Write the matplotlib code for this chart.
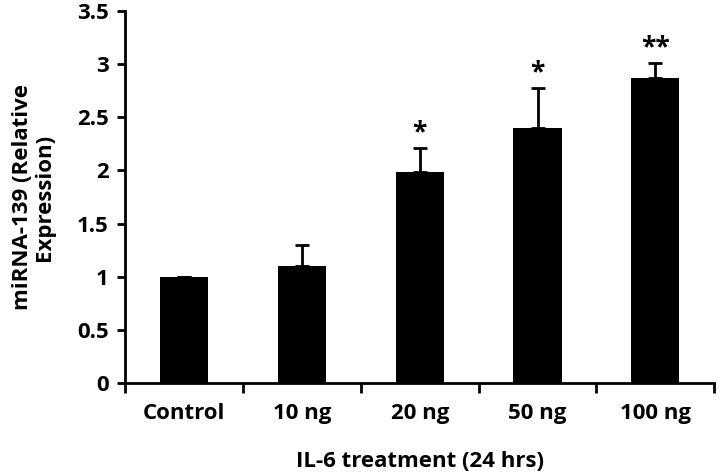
import numpy as np
import matplotlib.pyplot as plt
from matplotlib.ticker import FixedLocator

plt.rcParams['font.family'] = ['Open Sans', 'DejaVu Sans']
plt.rcParams['font.weight'] = 'bold'

groups = ['Control', '10 ng', '20 ng', '50 ng', '100 ng']
expr = [1.0, 1.1, 1.99, 2.40, 2.87]
err = [0.0, 0.2, 0.22, 0.38, 0.14]
stars = ['', '', '*', '*', '**']

fig = plt.figure(figsize=(7.2, 4.76), dpi=100)
ax = fig.add_axes([0.174, 0.195, 0.818, 0.782])

x = np.arange(len(groups))
ax.bar(x, expr, width=0.41, color='black', zorder=2)
ax.errorbar(x, expr, yerr=[np.zeros(len(err)), err], fmt='none', ecolor='black',
            elinewidth=2, capsize=5, capthick=2, zorder=3)

for xi, v, e, s in zip(x, expr, err, stars):
    if s:
        ax.annotate(s, (xi, v + e), xytext=(0, 1), textcoords='offset points',
                    ha='center', va='bottom', fontsize=19, fontweight='bold')

ax.set_xlim(-0.5, len(groups) - 0.5)
ax.set_ylim(0, 3.5)
ax.set_yticks(np.arange(0, 3.51, 0.5))
ax.set_yticklabels(['0', '0.5', '1', '1.5', '2', '2.5', '3', '3.5'])
ax.set_xticks(x)
ax.set_xticklabels(groups)
ax.xaxis.set_minor_locator(FixedLocator(np.arange(-0.5, len(groups), 1.0)))
ax.tick_params(axis='x', which='major', length=0, pad=14, labelsize=16)
ax.tick_params(axis='x', which='minor', length=7, width=2)
ax.tick_params(axis='y', length=6, width=2, labelsize=16, pad=6)

for side in ['top', 'right']:
    ax.spines[side].set_visible(False)
for side in ['left', 'bottom']:
    ax.spines[side].set_linewidth(2)

ax.set_ylabel('miRNA-139 (Relative\nExpression)', fontsize=16, fontweight='bold',
              labelpad=16, linespacing=1.05)
ax.set_xlabel('IL-6 treatment (24 hrs)', fontsize=16, fontweight='bold', labelpad=20)

fig.savefig('out.png', dpi=100)
